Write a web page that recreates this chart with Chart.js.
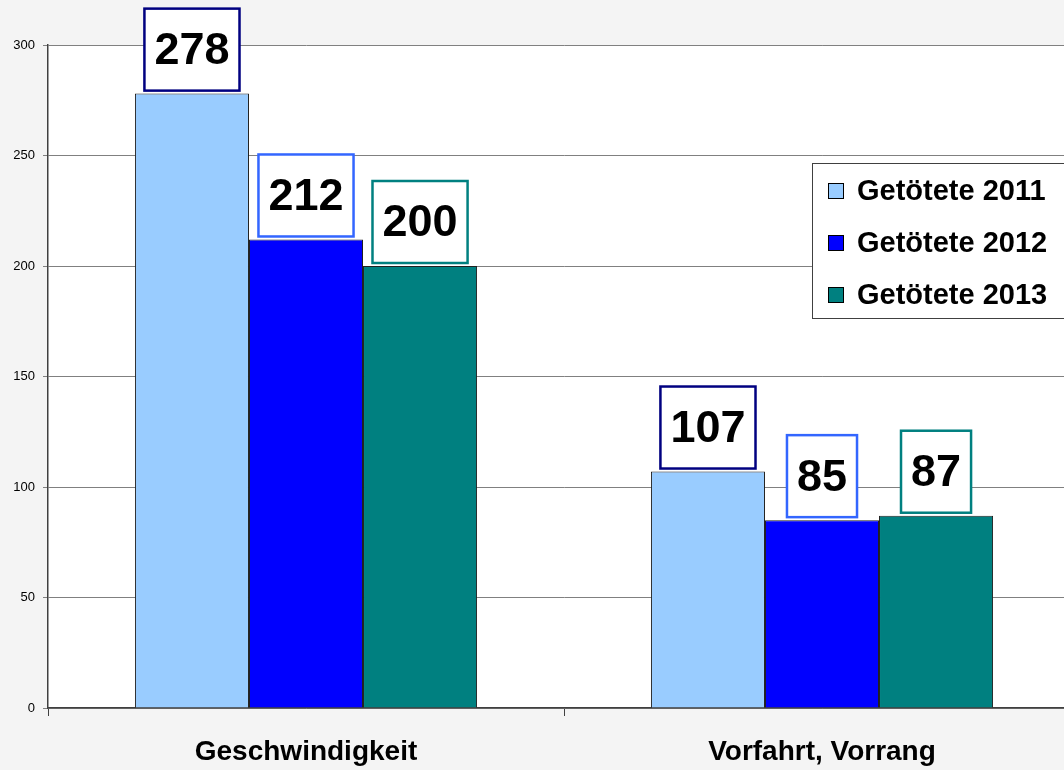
<!DOCTYPE html>
<html>
<head>
<meta charset="utf-8">
<script src="https://cdn.jsdelivr.net/npm/chart.js@4"></script>
<style>
  html, body { margin: 0; padding: 0; background: #f4f4f4; overflow: hidden; }
  #wrap { width: 1090px; height: 770px; }
</style>
</head>
<body>
<div id="wrap"><canvas id="chartGetoetete" width="1090" height="770"></canvas></div>
<script>
var categories = ["Geschwindigkeit", "Vorfahrt, Vorrang"];
var seriesNames = ["Getötete 2011", "Getötete 2012", "Getötete 2013"];
var values2011 = [278, 107];
var values2012 = [212, 85];
var values2013 = [200, 87];
var yTicks = [0, 50, 100, 150, 200, 250, 300];

var fillColors = ["#99ccff", "#0000ff", "#008080"];
var labelBorders = ["#000080", "#3366ff", "#008080"];

// white plot area
var plotBackground = {
    id: "plotBackground",
    beforeDraw: function (chart) {
        var a = chart.chartArea;
        var c = chart.ctx;
        c.save();
        c.fillStyle = "#ffffff";
        c.fillRect(a.left, a.top, a.right - a.left, a.bottom - a.top);
        c.restore();
    },
};

// boxed value labels above bars
var boxedLabels = {
    id: "boxedLabels",
    afterDatasetsDraw: function (chart) {
        var c = chart.ctx;
        c.save();
        c.font = "bold 45px 'Liberation Sans', Arial, sans-serif";
        c.textAlign = "center";
        c.textBaseline = "middle";
        chart.data.datasets.forEach(function (ds, i) {
            var meta = chart.getDatasetMeta(i);
            meta.data.forEach(function (bar, j) {
                var txt = String(ds.data[j]);
                var w = c.measureText(txt).width + 20;
                var h = 82;
                var x = bar.x - w / 2;
                var y = bar.y - 3 - h;
                c.fillStyle = "#ffffff";
                c.fillRect(x, y, w, h);
                c.lineWidth = 2.5;
                c.strokeStyle = labelBorders[i];
                c.strokeRect(x, y, w, h);
                c.fillStyle = "#000000";
                c.fillText(txt, bar.x, y + h / 2 + 2);
            });
        });
        c.restore();
    },
};

// legend box inside the plot
var boxLegend = {
    id: "boxLegend",
    afterDraw: function (chart) {
        var c = chart.ctx;
        var left = 812, top = 163;
        c.save();
        c.fillStyle = "#ffffff";
        c.fillRect(left, top, 270, 155);
        c.lineWidth = 1;
        c.strokeStyle = "#404040";
        c.strokeRect(left + 0.5, top + 0.5, 270, 155);
        c.font = "bold 29px 'Liberation Sans', Arial, sans-serif";
        c.textBaseline = "middle";
        c.textAlign = "left";
        chart.data.datasets.forEach(function (ds, i) {
            var cy = top + 28 + i * 52;
            c.fillStyle = ds.backgroundColor;
            c.fillRect(left + 16, cy - 8, 16, 16);
            c.strokeStyle = "#000000";
            c.strokeRect(left + 16.5, cy - 7.5, 15, 15);
            c.fillStyle = "#000000";
            c.fillText(ds.label, left + 45, cy + 1);
        });
        c.restore();
    },
};

var allSeries = [values2011, values2012, values2013];

new Chart(document.getElementById("chartGetoetete"), {
    type: "bar",
    data: {
        labels: categories,
        datasets: allSeries.map(function (vals, i) {
            return {
                label: seriesNames[i],
                data: vals,
                backgroundColor: fillColors[i],
                borderColor: "#202020",
                borderWidth: 1,
                borderSkipped: "bottom",
                categoryPercentage: 0.663,
                barPercentage: 1.0,
            };
        }),
    },
    options: {
        responsive: false,
        animation: false,
        layout: {
            padding: { top: 45, right: 10, bottom: 0, left: 0 },
        },
        plugins: {
            legend: { display: false },
            tooltip: { enabled: false },
        },
        scales: {
            x: {
                offset: true,
                grid: {
                    drawOnChartArea: false,
                    drawTicks: true,
                    tickLength: 8,
                    color: "#404040",
                    offset: true,
                },
                border: { color: "#404040", width: 1.5 },
                ticks: {
                    color: "#000000",
                    padding: 19,
                    font: { family: "'Liberation Sans', Arial, sans-serif", size: 28, weight: "bold" },
                },
                afterFit: function (scale) {
                    scale.height = 62;
                },
            },
            y: {
                min: 0,
                max: 300,
                afterBuildTicks: function (scale) {
                    scale.ticks = yTicks.map(function (v) {
                        return { value: v };
                    });
                },
                grid: {
                    color: "#808080",
                    lineWidth: 1,
                    tickLength: 5,
                },
                border: { color: "#404040", width: 1.5 },
                ticks: {
                    color: "#000000",
                    padding: 8,
                    font: { family: "'Liberation Sans', Arial, sans-serif", size: 13 },
                },
                afterFit: function (scale) {
                    scale.width = 48;
                },
            },
        },
    },
    plugins: [plotBackground, boxedLabels, boxLegend],
});
</script>
</body>
</html>
